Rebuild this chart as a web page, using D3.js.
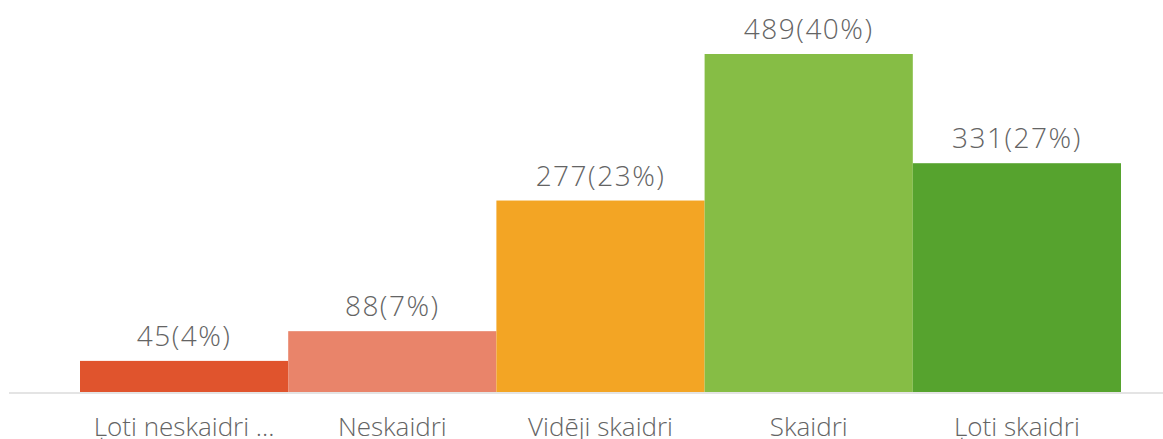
<!DOCTYPE html>
<html>
<head>
<meta charset="utf-8">
<script src="https://cdn.jsdelivr.net/npm/d3@7"></script>
<style>
  html, body { margin: 0; padding: 0; background: #fff; overflow: hidden; }
  svg { display: block; }
  text { font-family: "Open Sans", sans-serif; font-weight: 300; fill: #646464; }
</style>
</head>
<body>
<svg id="chart" width="1163" height="439"></svg>
<script>
const categories = ["Ļoti neskaidri ...", "Neskaidri", "Vidēji skaidri", "Skaidri", "Ļoti skaidri"];
const values = [45, 88, 277, 489, 331];
const percents = [4, 7, 23, 40, 27];
const colors = ["#e0542d", "#e9846a", "#f3a524", "#86bd45", "#56a32e"];

const W = 1163, H = 439;
const svg = d3.select("#chart");

const x = d3.scaleBand().domain(categories).range([80, 1121]).padding(0);
const y = d3.scaleLinear().domain([0, d3.max(values)]).range([392, 54]);

const data = categories.map((c, i) => ({ c, v: values[i], p: percents[i], col: colors[i] }));

// baseline
svg.append("line")
  .attr("x1", 9).attr("x2", W)
  .attr("y1", 393).attr("y2", 393)
  .attr("stroke", "#e4e4e4").attr("stroke-width", 2);

// bars
svg.append("g").selectAll("rect").data(data).join("rect")
  .attr("x", d => x(d.c))
  .attr("width", x.bandwidth())
  .attr("y", d => y(d.v))
  .attr("height", d => y(0) - y(d.v))
  .attr("fill", d => d.col);

// value labels
svg.append("g").selectAll("text").data(data).join("text")
  .attr("x", d => x(d.c) + x.bandwidth() / 2)
  .attr("y", d => y(d.v) - 15)
  .attr("text-anchor", "middle")
  .style("font-size", "28px")
  .style("letter-spacing", "1.5px")
  .text(d => `${d.v}(${d.p}%)`);

// category axis labels
const axis = d3.axisBottom(x).tickSize(0).tickPadding(0);
const gx = svg.append("g").attr("transform", "translate(0,392)").call(axis);
gx.select(".domain").remove();
gx.selectAll("text")
  .attr("y", 44)
  .attr("dy", null)
  .style("font-size", "26px")
  .style("font-family", "'Open Sans', sans-serif")
  .style("font-weight", 300)
  .attr("fill", "#646464");
</script>
</body>
</html>
